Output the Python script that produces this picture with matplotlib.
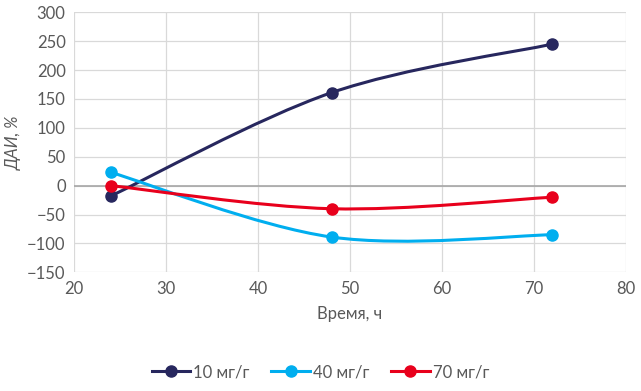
import numpy as np
import matplotlib
matplotlib.use("Agg")
import matplotlib.pyplot as plt
from matplotlib.path import Path
from matplotlib.patches import PathPatch
from matplotlib.lines import Line2D

plt.rcParams['font.family'] = ['Lato', 'DejaVu Sans']

hours = [24, 48, 72]
dai_10 = [-18, 161, 245]
dai_40 = [23, -89, -85]
dai_70 = [0, -40, -20]
series_names = ["10 мг/г", "40 мг/г", "70 мг/г"]
colors = ["#27275e", "#00aeef", "#e8001c"]
xticks = [20, 30, 40, 50, 60, 70, 80]
yticks = [-150, -100, -50, 0, 50, 100, 150, 200, 250, 300]

txt = "#595959"


def smooth_path(x, y):
    # excel-like smoothed line: bezier with control points from neighbours
    pts = np.column_stack([x, y]).astype(float)
    n = len(pts)
    verts = [pts[0]]
    codes = [Path.MOVETO]
    for i in range(n - 1):
        p0 = pts[i - 1] if i > 0 else pts[i]
        p1 = pts[i]
        p2 = pts[i + 1]
        p3 = pts[i + 2] if i + 2 < n else pts[i + 1]
        c1 = p1 + (p2 - p0) / 6.0
        c2 = p2 - (p3 - p1) / 6.0
        verts += [c1, c2, p2]
        codes += [Path.CURVE4] * 3
    return Path(verts, codes)


fig = plt.figure(figsize=(6.41, 3.91), dpi=100)
ax = fig.add_axes([0.1154, 0.3036, 0.8612, 0.6649])

for vals, c in zip([dai_10, dai_40, dai_70], colors):
    ax.add_patch(PathPatch(smooth_path(hours, vals), facecolor="none",
                           edgecolor=c, lw=2.2, zorder=3, capstyle="round"))
    ax.plot(hours, vals, ls="none", marker="o", ms=8, color=c, zorder=4)

ax.set_xlim(20, 80)
ax.set_ylim(-150, 300)
ax.set_xticks(xticks)
ax.set_yticks(yticks)
ax.grid(True, color="#d9d9d9", lw=0.9)
ax.axhline(0, color="#a6a6a6", lw=1.2, zorder=2)
ax.set_axisbelow(True)
for s in ax.spines.values():
    s.set_visible(False)
ax.tick_params(length=0, labelsize=12, labelcolor=txt, pad=6)

ax.set_xlabel("Время, ч", fontsize=12, color=txt, labelpad=7)
ax.set_ylabel("ДАИ, %", fontsize=12, color=txt, style="italic", labelpad=4)

handles = [Line2D([], [], color=c, lw=2.2, marker="o", ms=8) for c in colors]
fig.legend(handles, series_names, loc="center", bbox_to_anchor=(0.5, 0.048),
           ncol=3, frameon=False, fontsize=12, labelcolor=txt,
           handlelength=2.3, handletextpad=0.2, columnspacing=1.3)

fig.savefig("out.png", dpi=100)
